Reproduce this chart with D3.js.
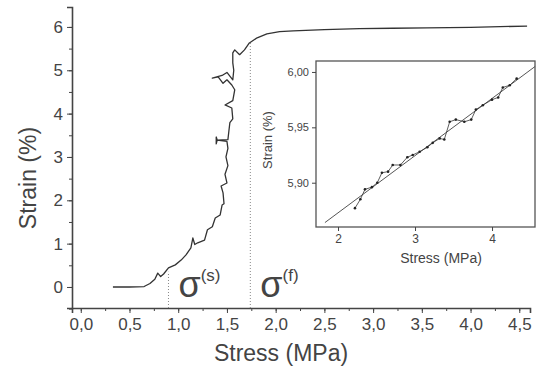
<!DOCTYPE html>
<html>
<head>
<meta charset="utf-8">
<script src="https://cdn.jsdelivr.net/npm/d3@7"></script>
<style>
	body { margin: 0; background: #fff; }
	svg { display: block; font-family: "Liberation Sans", Arial, sans-serif; }
	.axis path, .axis line { stroke: #444; }
	.axis text { fill: #444; }
</style>
</head>
<body>
<svg id="chart" width="537" height="373"></svg>
<script>
// main curve: stress (MPa), strain (%)
var mainStress = [0.33, 0.50, 0.65, 0.71, 0.76, 0.79, 0.82, 0.85, 0.90, 0.97, 1.03, 1.08, 1.13, 1.15, 1.17, 1.20, 1.27, 1.30, 1.35, 1.38, 1.43, 1.45, 1.47, 1.46, 1.44, 1.50, 1.48, 1.51, 1.49, 1.51, 1.50, 1.40, 1.39, 1.39, 1.40, 1.51, 1.52, 1.53, 1.56, 1.55, 1.48, 1.56, 1.58, 1.55, 1.50, 1.46, 1.41, 1.35, 1.45, 1.50, 1.56, 1.57, 1.56, 1.56, 1.58, 1.63, 1.68, 1.73, 1.81, 1.91, 2.04, 2.18, 2.50, 2.86, 3.20, 3.55, 4.00, 4.58];
var mainStrain = [0.00, 0.00, 0.01, 0.08, 0.18, 0.32, 0.24, 0.30, 0.44, 0.51, 0.62, 0.74, 0.90, 1.13, 0.98, 1.02, 1.08, 1.32, 1.39, 1.59, 1.66, 1.89, 1.92, 2.17, 2.33, 2.40, 2.60, 2.80, 3.00, 3.20, 3.36, 3.39, 3.46, 3.30, 3.39, 3.40, 3.60, 3.79, 3.88, 4.13, 4.20, 4.30, 4.55, 4.66, 4.78, 4.70, 4.85, 4.82, 4.88, 4.95, 4.78, 5.00, 5.17, 5.40, 5.47, 5.36, 5.47, 5.63, 5.75, 5.84, 5.89, 5.91, 5.94, 5.96, 5.97, 5.98, 5.99, 6.02];

// inset measured points
var insetStress = [2.22, 2.29, 2.35, 2.44, 2.51, 2.57, 2.65, 2.71, 2.81, 2.90, 2.97, 3.06, 3.16, 3.23, 3.32, 3.38, 3.45, 3.53, 3.64, 3.73, 3.79, 3.88, 4.00, 4.08, 4.14, 4.23, 4.32];
var insetStrain = [5.877, 5.885, 5.894, 5.896, 5.900, 5.909, 5.910, 5.916, 5.916, 5.923, 5.925, 5.928, 5.932, 5.936, 5.940, 5.939, 5.955, 5.957, 5.955, 5.957, 5.966, 5.970, 5.975, 5.977, 5.986, 5.988, 5.994];

// linear fit in the inset (end points)
var fitStress = [1.83, 4.56];
var fitStrain = [5.864, 6.005];

// marker lines sigma(s) and sigma(f)
var markerStress = [0.9, 1.74];
var markerTop = [0.35, 5.65];
var markerLabels = ["(s)", "(f)"];

var mainXTicks = [0, 0.5, 1, 1.5, 2, 2.5, 3, 3.5, 4, 4.5];
var mainYTicks = [0, 1, 2, 3, 4, 5, 6];
var insetXTicks = [2, 3, 4];
var insetYTicks = [5.90, 5.95, 6.00];

var svg = d3.select("#chart");
var comma = function(f) {
	return function(d) { return d3.format(f)(d).replace(".", ","); };
};

// ---- main plot ----
var x = d3.scaleLinear().domain([-0.09, 4.61]).range([72, 530]);
var y = d3.scaleLinear().domain([-0.485, 6.46]).range([308, 7]);

// minor ticks first, so major ones sit on top
svg.append("g").attr("class", "axis")
	.attr("transform", "translate(0," + y.range()[0] + ")")
	.call(d3.axisBottom(x).tickValues(d3.range(0, 4.6, 0.25)).tickSize(3).tickFormat(""))
	.select(".domain").remove();
svg.append("g").attr("class", "axis")
	.attr("transform", "translate(" + x.range()[0] + ",0)")
	.call(d3.axisLeft(y).tickValues(d3.range(-0.5, 6.1, 0.5)).tickSize(3).tickFormat(""))
	.select(".domain").remove();

var xAxis = svg.append("g").attr("class", "axis")
	.attr("transform", "translate(0," + y.range()[0] + ")")
	.call(d3.axisBottom(x).tickValues(mainXTicks).tickSizeOuter(0).tickSize(5).tickPadding(5).tickFormat(comma(".1f")));
xAxis.selectAll("text").attr("font-size", 17);
xAxis.select(".domain").attr("stroke-width", 1.6);

var yAxis = svg.append("g").attr("class", "axis")
	.attr("transform", "translate(" + x.range()[0] + ",0)")
	.call(d3.axisLeft(y).tickValues(mainYTicks).tickSizeOuter(0).tickSize(5).tickPadding(4).tickFormat(d3.format("d")));
yAxis.selectAll("text").attr("font-size", 17);
yAxis.select(".domain").attr("stroke-width", 1.6);

svg.append("text")
	.attr("transform", "translate(36,178) rotate(-90)")
	.attr("text-anchor", "middle")
	.attr("font-size", 23)
	.attr("fill", "#444")
	.text("Strain (%)");

svg.append("text")
	.attr("x", 281).attr("y", 361)
	.attr("text-anchor", "middle")
	.attr("font-size", 23)
	.attr("fill", "#444")
	.text("Stress (MPa)");

// dotted markers
svg.selectAll(".marker").data(markerStress).enter().append("line")
	.attr("class", "marker")
	.attr("x1", function(d) { return x(d); })
	.attr("x2", function(d) { return x(d); })
	.attr("y1", y.range()[0])
	.attr("y2", function(d, i) { return y(markerTop[i]); })
	.attr("stroke", "#888")
	.attr("stroke-width", 1)
	.attr("stroke-dasharray", "1,2");

var sigma = svg.selectAll(".sigma").data(markerStress).enter().append("text")
	.attr("class", "sigma")
	.attr("x", function(d) { return x(d) + 10; })
	.attr("y", 297)
	.attr("fill", "#444");
sigma.append("tspan").attr("font-size", 36).text("σ");
sigma.append("tspan").attr("font-size", 17).attr("dy", -16).text(function(d, i) { return markerLabels[i]; });

var mainData = mainStress.map(function(s, i) { return [s, mainStrain[i]]; });
svg.append("path")
	.datum(mainData)
	.attr("fill", "none")
	.attr("stroke", "#333")
	.attr("stroke-width", 1.3)
	.attr("stroke-linejoin", "round")
	.attr("d", d3.line().x(function(d) { return x(d[0]); }).y(function(d) { return y(d[1]); }));

// ---- inset ----
var ix = d3.scaleLinear().domain([1.714, 4.558]).range([316, 535]);
var iy = d3.scaleLinear().domain([5.860, 6.0099]).range([227, 61]);

svg.append("rect")
	.attr("x", ix.range()[0]).attr("y", iy.range()[1])
	.attr("width", ix.range()[1] - ix.range()[0])
	.attr("height", iy.range()[0] - iy.range()[1])
	.attr("fill", "#fff")
	.attr("stroke", "#555")
	.attr("stroke-width", 1.3);

var ixAxis = svg.append("g").attr("class", "axis")
	.attr("transform", "translate(0," + iy.range()[0] + ")")
	.call(d3.axisBottom(ix).tickValues(insetXTicks).tickSizeOuter(0).tickSize(4).tickPadding(3).tickFormat(d3.format("d")));
ixAxis.select(".domain").remove();
ixAxis.selectAll("text").attr("font-size", 12);

var iyAxis = svg.append("g").attr("class", "axis")
	.attr("transform", "translate(" + ix.range()[0] + ",0)")
	.call(d3.axisLeft(iy).tickValues(insetYTicks).tickSizeOuter(0).tickSize(4).tickPadding(3).tickFormat(comma(".2f")));
iyAxis.select(".domain").remove();
iyAxis.selectAll("text").attr("font-size", 11);

svg.append("text")
	.attr("transform", "translate(272,140) rotate(-90)")
	.attr("text-anchor", "middle")
	.attr("font-size", 13)
	.attr("fill", "#444")
	.text("Strain (%)");

svg.append("text")
	.attr("x", 441).attr("y", 263)
	.attr("text-anchor", "middle")
	.attr("font-size", 14)
	.attr("fill", "#444")
	.text("Stress (MPa)");

var fitData = fitStress.map(function(s, i) { return [s, fitStrain[i]]; });
var insetLine = d3.line().x(function(d) { return ix(d[0]); }).y(function(d) { return iy(d[1]); });

svg.append("path")
	.datum(fitData)
	.attr("fill", "none")
	.attr("stroke", "#555")
	.attr("stroke-width", 1)
	.attr("d", insetLine);

var insetData = insetStress.map(function(s, i) { return [s, insetStrain[i]]; });
svg.append("path")
	.datum(insetData)
	.attr("fill", "none")
	.attr("stroke", "#333")
	.attr("stroke-width", 0.8)
	.attr("d", insetLine);

svg.selectAll(".pt").data(insetData).enter().append("circle")
	.attr("class", "pt")
	.attr("cx", function(d) { return ix(d[0]); })
	.attr("cy", function(d) { return iy(d[1]); })
	.attr("r", 1.3)
	.attr("fill", "#222");
</script>
</body>
</html>
